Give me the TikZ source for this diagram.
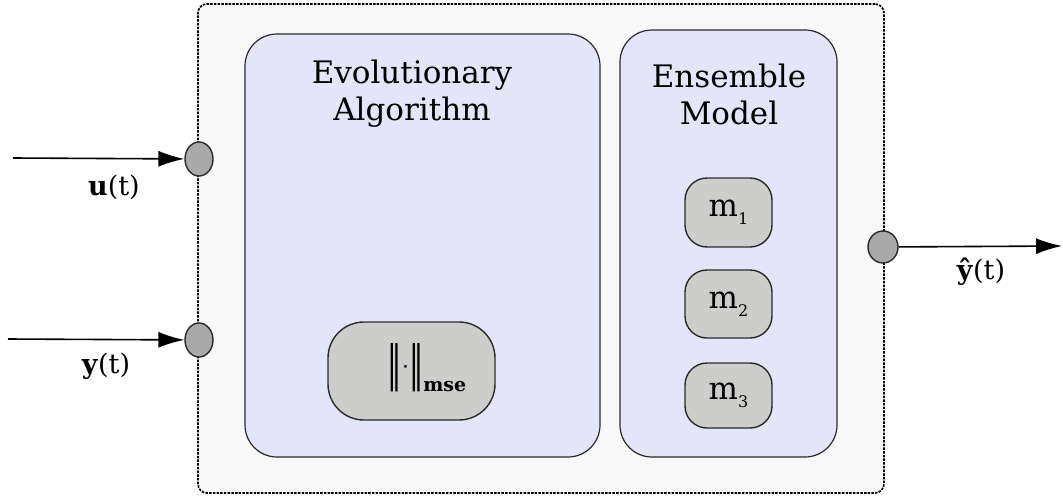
\documentclass[tikz,border=0pt]{standalone}
\usepackage{graphicx}
\usepackage{fontspec}
\setmainfont{DejaVu Serif}
\usetikzlibrary{arrows.meta,shapes.geometric}
\definecolor{outerbg}{HTML}{F8F8F8}
\definecolor{lav}{HTML}{E5E5F9}
\definecolor{boxgray}{HTML}{CDCDCB}
\definecolor{portgray}{HTML}{A9A9A9}
\definecolor{edge}{HTML}{2A2A2A}
\begin{document}
\begin{tikzpicture}[x=1pt,y=-1pt,
  outerbox/.style={draw=black, dash pattern=on 2.5pt off 1.2pt, line width=1.7pt, fill=outerbg, rounded corners=9pt, inner sep=0pt},
  panel/.style={draw=edge, line width=1.2pt, fill=lav, rounded corners=32pt, inner sep=0pt},
  unitbox/.style={draw=edge, line width=1.4pt, fill=boxgray, inner sep=0pt},
  port/.style={ellipse, draw=edge, line width=1.4pt, fill=portgray, minimum width=28pt, minimum height=34pt, inner sep=0pt},
  sig/.style={-{Latex[length=26pt,width=16pt]}, line width=1.6pt},
  title/.style={align=center, font=\fontsize{31}{37}\selectfont},
  lbl/.style={font=\fontsize{27}{30}\selectfont},
  mlbl/.style={font=\fontsize{31}{34}\selectfont}
]
\useasboundingbox (0,0) rectangle (1063,498);
% outer system box
\node[outerbox, minimum width=686pt, minimum height=489pt] (sys) at (541,248.5) {};
% panels
\node[panel, minimum width=355pt, minimum height=423pt] (ea) at (422.5,245.5) {};
\node[panel, minimum width=217pt, minimum height=427pt] (ens) at (728.5,243.5) {};
\node[title] (eat) at (412,94) {Evolutionary\\Algorithm};
\node[title] (enst) at (729,94) {Ensemble\\Model};
% fitness box
\node[unitbox, rounded corners=36pt, minimum width=167pt, minimum height=98pt] (mse) at (411.5,371) {};
\node[inner sep=0pt] (norm) at (427,368)
  {\fontsize{22}{24}\selectfont\raisebox{11pt}{\scalebox{1.3}[2.2]{‖}}\raisebox{17pt}{·}\raisebox{11pt}{\scalebox{1.3}[2.2]{‖}}\fontsize{19}{22}\selectfont\bfseries mse};
% models
\node[unitbox, rounded corners=22pt, minimum width=87pt, minimum height=69pt] (m1) at (728.5,212.5) {};
\node[unitbox, rounded corners=22pt, minimum width=87pt, minimum height=68pt] (m2) at (728.5,304) {};
\node[unitbox, rounded corners=22pt, minimum width=87pt, minimum height=65pt] (m3) at (728.5,395.5) {};
\node[mlbl] (m1l) at (m1) {m\raisebox{-0.5ex}{\fontsize{16}{18}\selectfont 1}};
\node[mlbl] (m2l) at (m2) {m\raisebox{-0.5ex}{\fontsize{16}{18}\selectfont 2}};
\node[mlbl] (m3l) at (m3) {m\raisebox{-0.5ex}{\fontsize{16}{18}\selectfont 3}};
% ports
\node[port] (pu) at (199,159) {};
\node[port] (py) at (199,340) {};
\node[port, minimum width=30pt, minimum height=32pt] (po) at (883,247) {};
% signals
\coordinate (uin) at (13,158);
\coordinate (yin) at (8,339);
\coordinate (yout) at (1062,246);
\draw[sig] (uin) -- (pu);
\draw[sig] (yin) -- (py);
\draw[sig] (po) -- (yout);
\node[lbl] (ul) at (114,187) {\textbf{u}(t)};
\node[lbl] (yl) at (106,366) {\textbf{y}(t)};
\node[lbl] (ol) at (981,272) {\textbf{ŷ}(t)};
\end{tikzpicture}
\end{document}
